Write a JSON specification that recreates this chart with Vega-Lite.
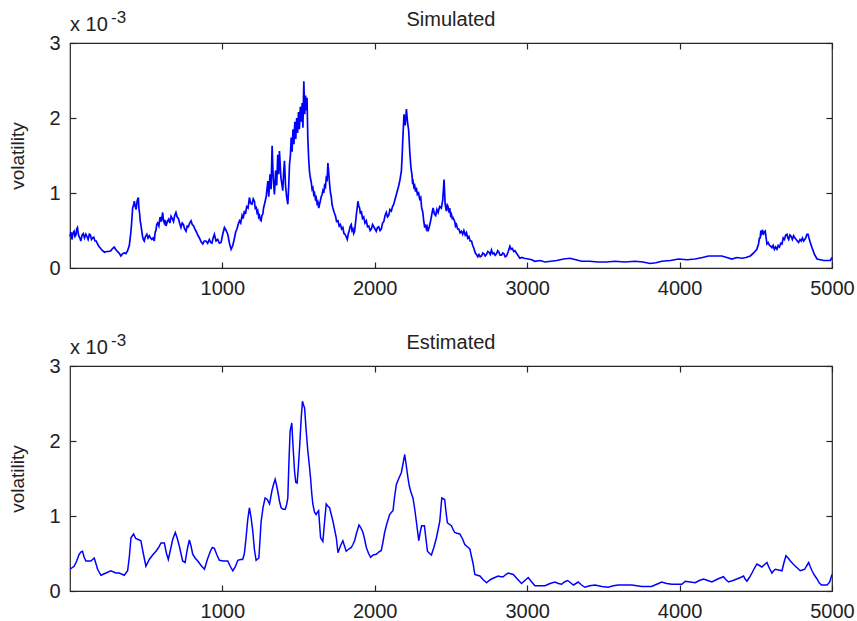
{
  "$schema": "https://vega.github.io/schema/vega-lite/v6.json",
  "padding": {"left": 7, "top": 8, "right": 0, "bottom": 0},
  "bounds": "flush",
  "spacing": 98,
  "config": {
    "font": "Liberation Sans",
    "view": {"stroke": "#262626", "strokeWidth": 1.2},
    "axis": {"grid": false, "domain": false, "labelFontSize": 20, "labelColor": "#222222", "tickColor": "#262626", "tickSize": -6, "tickWidth": 1.2, "titleFontWeight": "normal", "titleColor": "#222222", "labelFlush": false, "labelOverlap": false, "minExtent": 0}
  },
  "datasets": {
    "simulated": [
      {"t":1,"v":0.00042},{"t":7,"v":0.00048},{"t":14,"v":0.00038},{"t":21,"v":0.00047},{"t":28,"v":0.00049},{"t":34,"v":0.00042},{"t":40,"v":0.00044},{"t":45,"v":0.00052},{"t":50,"v":0.00054},{"t":55,"v":0.00046},{"t":60,"v":0.00042},{"t":66,"v":0.00040},{"t":72,"v":0.00036},{"t":80,"v":0.00044},{"t":88,"v":0.00046},{"t":96,"v":0.00040},{"t":105,"v":0.00045},{"t":112,"v":0.00042},{"t":120,"v":0.00038},{"t":128,"v":0.00045},{"t":135,"v":0.00044},{"t":142,"v":0.00038},{"t":149,"v":0.00040},{"t":157,"v":0.00041},{"t":165,"v":0.00036},{"t":173,"v":0.00036},{"t":182,"v":0.00032},{"t":190,"v":0.00029},{"t":198,"v":0.00027},{"t":206,"v":0.00025},{"t":215,"v":0.00023},{"t":228,"v":0.00021},{"t":240,"v":0.00022},{"t":255,"v":0.00022},{"t":269,"v":0.00023},{"t":280,"v":0.00026},{"t":291,"v":0.00028},{"t":300,"v":0.00025},{"t":312,"v":0.00022},{"t":323,"v":0.00020},{"t":335,"v":0.00016},{"t":346,"v":0.00019},{"t":358,"v":0.00020},{"t":368,"v":0.00019},{"t":379,"v":0.00023},{"t":390,"v":0.00030},{"t":401,"v":0.00049},{"t":406,"v":0.00062},{"t":412,"v":0.00080},{"t":418,"v":0.00084},{"t":423,"v":0.00089},{"t":429,"v":0.00082},{"t":435,"v":0.00078},{"t":442,"v":0.00090},{"t":449,"v":0.00094},{"t":453,"v":0.00080},{"t":458,"v":0.00072},{"t":462,"v":0.00062},{"t":466,"v":0.00058},{"t":471,"v":0.00050},{"t":477,"v":0.00042},{"t":482,"v":0.00038},{"t":488,"v":0.00036},{"t":496,"v":0.00042},{"t":505,"v":0.00045},{"t":513,"v":0.00040},{"t":521,"v":0.00043},{"t":530,"v":0.00040},{"t":538,"v":0.00038},{"t":546,"v":0.00040},{"t":554,"v":0.00036},{"t":560,"v":0.00048},{"t":565,"v":0.00050},{"t":570,"v":0.00058},{"t":576,"v":0.00060},{"t":584,"v":0.00056},{"t":592,"v":0.00068},{"t":600,"v":0.00062},{"t":609,"v":0.00074},{"t":614,"v":0.00064},{"t":620,"v":0.00060},{"t":626,"v":0.00064},{"t":631,"v":0.00056},{"t":640,"v":0.00062},{"t":648,"v":0.00065},{"t":656,"v":0.00060},{"t":664,"v":0.00069},{"t":672,"v":0.00066},{"t":680,"v":0.00062},{"t":688,"v":0.00070},{"t":696,"v":0.00074},{"t":704,"v":0.00068},{"t":712,"v":0.00066},{"t":720,"v":0.00060},{"t":729,"v":0.00054},{"t":737,"v":0.00060},{"t":745,"v":0.00058},{"t":753,"v":0.00052},{"t":762,"v":0.00049},{"t":770,"v":0.00056},{"t":778,"v":0.00055},{"t":786,"v":0.00060},{"t":795,"v":0.00063},{"t":803,"v":0.00058},{"t":812,"v":0.00056},{"t":820,"v":0.00052},{"t":828,"v":0.00049},{"t":839,"v":0.00044},{"t":850,"v":0.00040},{"t":861,"v":0.00035},{"t":872,"v":0.00032},{"t":882,"v":0.00036},{"t":893,"v":0.00036},{"t":904,"v":0.00033},{"t":915,"v":0.00038},{"t":924,"v":0.00034},{"t":932,"v":0.00033},{"t":940,"v":0.00040},{"t":948,"v":0.00045},{"t":959,"v":0.00036},{"t":970,"v":0.00038},{"t":981,"v":0.00033},{"t":992,"v":0.00034},{"t":1003,"v":0.00045},{"t":1014,"v":0.00054},{"t":1025,"v":0.00050},{"t":1036,"v":0.00045},{"t":1047,"v":0.00033},{"t":1058,"v":0.00025},{"t":1069,"v":0.00030},{"t":1080,"v":0.00040},{"t":1088,"v":0.00048},{"t":1096,"v":0.00052},{"t":1104,"v":0.00058},{"t":1113,"v":0.00063},{"t":1121,"v":0.00060},{"t":1130,"v":0.00070},{"t":1137,"v":0.00066},{"t":1145,"v":0.00076},{"t":1152,"v":0.00072},{"t":1160,"v":0.00082},{"t":1169,"v":0.00080},{"t":1178,"v":0.00094},{"t":1186,"v":0.00086},{"t":1195,"v":0.00085},{"t":1203,"v":0.00092},{"t":1211,"v":0.00089},{"t":1217,"v":0.00078},{"t":1222,"v":0.00082},{"t":1228,"v":0.00074},{"t":1233,"v":0.00076},{"t":1239,"v":0.00068},{"t":1244,"v":0.00070},{"t":1250,"v":0.00064},{"t":1255,"v":0.00063},{"t":1260,"v":0.00070},{"t":1266,"v":0.00072},{"t":1271,"v":0.00080},{"t":1277,"v":0.00085},{"t":1288,"v":0.00095},{"t":1299,"v":0.00116},{"t":1305,"v":0.00095},{"t":1313,"v":0.00125},{"t":1320,"v":0.00105},{"t":1327,"v":0.00163},{"t":1334,"v":0.00120},{"t":1342,"v":0.00098},{"t":1350,"v":0.00130},{"t":1357,"v":0.00110},{"t":1364,"v":0.00151},{"t":1370,"v":0.00125},{"t":1375,"v":0.00156},{"t":1385,"v":0.00120},{"t":1397,"v":0.00103},{"t":1402,"v":0.00125},{"t":1408,"v":0.00143},{"t":1415,"v":0.00110},{"t":1422,"v":0.00095},{"t":1430,"v":0.00085},{"t":1436,"v":0.00110},{"t":1441,"v":0.00138},{"t":1447,"v":0.00150},{"t":1452,"v":0.00174},{"t":1458,"v":0.00155},{"t":1464,"v":0.00185},{"t":1470,"v":0.00165},{"t":1476,"v":0.00195},{"t":1482,"v":0.00172},{"t":1488,"v":0.00200},{"t":1494,"v":0.00180},{"t":1500,"v":0.00208},{"t":1506,"v":0.00185},{"t":1512,"v":0.00215},{"t":1518,"v":0.00195},{"t":1524,"v":0.00220},{"t":1529,"v":0.00187},{"t":1535,"v":0.00249},{"t":1541,"v":0.00205},{"t":1546,"v":0.00230},{"t":1551,"v":0.00210},{"t":1556,"v":0.00227},{"t":1561,"v":0.00174},{"t":1567,"v":0.00145},{"t":1572,"v":0.00129},{"t":1578,"v":0.00120},{"t":1583,"v":0.00115},{"t":1589,"v":0.00105},{"t":1594,"v":0.00107},{"t":1600,"v":0.00098},{"t":1605,"v":0.00100},{"t":1611,"v":0.00092},{"t":1616,"v":0.00094},{"t":1622,"v":0.00086},{"t":1627,"v":0.00088},{"t":1633,"v":0.00080},{"t":1638,"v":0.00085},{"t":1644,"v":0.00090},{"t":1649,"v":0.00095},{"t":1655,"v":0.00098},{"t":1660,"v":0.00103},{"t":1666,"v":0.00100},{"t":1671,"v":0.00110},{"t":1677,"v":0.00108},{"t":1682,"v":0.00120},{"t":1688,"v":0.00118},{"t":1693,"v":0.00140},{"t":1699,"v":0.00125},{"t":1704,"v":0.00112},{"t":1710,"v":0.00100},{"t":1715,"v":0.00095},{"t":1720,"v":0.00085},{"t":1726,"v":0.00080},{"t":1734,"v":0.00074},{"t":1742,"v":0.00070},{"t":1750,"v":0.00062},{"t":1759,"v":0.00063},{"t":1767,"v":0.00056},{"t":1775,"v":0.00058},{"t":1783,"v":0.00052},{"t":1791,"v":0.00054},{"t":1798,"v":0.00046},{"t":1805,"v":0.00045},{"t":1812,"v":0.00042},{"t":1820,"v":0.00038},{"t":1827,"v":0.00046},{"t":1833,"v":0.00050},{"t":1840,"v":0.00056},{"t":1846,"v":0.00058},{"t":1851,"v":0.00050},{"t":1857,"v":0.00052},{"t":1862,"v":0.00046},{"t":1868,"v":0.00049},{"t":1874,"v":0.00060},{"t":1879,"v":0.00070},{"t":1885,"v":0.00080},{"t":1890,"v":0.00089},{"t":1896,"v":0.00082},{"t":1901,"v":0.00080},{"t":1906,"v":0.00072},{"t":1912,"v":0.00076},{"t":1920,"v":0.00066},{"t":1928,"v":0.00068},{"t":1936,"v":0.00060},{"t":1945,"v":0.00063},{"t":1953,"v":0.00055},{"t":1961,"v":0.00056},{"t":1970,"v":0.00050},{"t":1978,"v":0.00052},{"t":1986,"v":0.00058},{"t":1994,"v":0.00055},{"t":2002,"v":0.00052},{"t":2010,"v":0.00049},{"t":2018,"v":0.00054},{"t":2026,"v":0.00055},{"t":2035,"v":0.00050},{"t":2043,"v":0.00052},{"t":2052,"v":0.00060},{"t":2060,"v":0.00062},{"t":2068,"v":0.00070},{"t":2076,"v":0.00074},{"t":2084,"v":0.00068},{"t":2092,"v":0.00070},{"t":2100,"v":0.00078},{"t":2109,"v":0.00076},{"t":2117,"v":0.00082},{"t":2125,"v":0.00085},{"t":2134,"v":0.00092},{"t":2142,"v":0.00098},{"t":2150,"v":0.00104},{"t":2158,"v":0.00110},{"t":2166,"v":0.00118},{"t":2175,"v":0.00129},{"t":2180,"v":0.00150},{"t":2184,"v":0.00170},{"t":2192,"v":0.00205},{"t":2200,"v":0.00190},{"t":2208,"v":0.00212},{"t":2215,"v":0.00195},{"t":2223,"v":0.00183},{"t":2230,"v":0.00155},{"t":2236,"v":0.00138},{"t":2240,"v":0.00130},{"t":2244,"v":0.00125},{"t":2248,"v":0.00115},{"t":2251,"v":0.00116},{"t":2257,"v":0.00108},{"t":2262,"v":0.00110},{"t":2268,"v":0.00102},{"t":2273,"v":0.00107},{"t":2280,"v":0.00098},{"t":2288,"v":0.00100},{"t":2295,"v":0.00092},{"t":2302,"v":0.00094},{"t":2308,"v":0.00080},{"t":2315,"v":0.00075},{"t":2322,"v":0.00062},{"t":2328,"v":0.00054},{"t":2333,"v":0.00058},{"t":2339,"v":0.00052},{"t":2344,"v":0.00055},{"t":2350,"v":0.00049},{"t":2358,"v":0.00055},{"t":2366,"v":0.00062},{"t":2375,"v":0.00072},{"t":2383,"v":0.00080},{"t":2392,"v":0.00072},{"t":2400,"v":0.00070},{"t":2408,"v":0.00078},{"t":2416,"v":0.00074},{"t":2426,"v":0.00082},{"t":2437,"v":0.00080},{"t":2446,"v":0.00090},{"t":2455,"v":0.00118},{"t":2462,"v":0.00085},{"t":2470,"v":0.00076},{"t":2476,"v":0.00084},{"t":2481,"v":0.00082},{"t":2487,"v":0.00074},{"t":2492,"v":0.00080},{"t":2498,"v":0.00070},{"t":2503,"v":0.00072},{"t":2509,"v":0.00066},{"t":2514,"v":0.00067},{"t":2520,"v":0.00064},{"t":2525,"v":0.00062},{"t":2530,"v":0.00056},{"t":2536,"v":0.00058},{"t":2544,"v":0.00052},{"t":2552,"v":0.00052},{"t":2560,"v":0.00047},{"t":2569,"v":0.00049},{"t":2577,"v":0.00045},{"t":2585,"v":0.00050},{"t":2594,"v":0.00044},{"t":2602,"v":0.00047},{"t":2610,"v":0.00040},{"t":2618,"v":0.00042},{"t":2626,"v":0.00036},{"t":2635,"v":0.00036},{"t":2643,"v":0.00030},{"t":2651,"v":0.00026},{"t":2660,"v":0.00020},{"t":2668,"v":0.00018},{"t":2676,"v":0.00015},{"t":2684,"v":0.00018},{"t":2692,"v":0.00015},{"t":2701,"v":0.00016},{"t":2709,"v":0.00020},{"t":2717,"v":0.00019},{"t":2725,"v":0.00016},{"t":2733,"v":0.00018},{"t":2742,"v":0.00022},{"t":2750,"v":0.00021},{"t":2758,"v":0.00018},{"t":2766,"v":0.00024},{"t":2774,"v":0.00019},{"t":2782,"v":0.00020},{"t":2790,"v":0.00017},{"t":2799,"v":0.00019},{"t":2807,"v":0.00023},{"t":2815,"v":0.00021},{"t":2823,"v":0.00017},{"t":2832,"v":0.00017},{"t":2840,"v":0.00020},{"t":2848,"v":0.00019},{"t":2856,"v":0.00015},{"t":2865,"v":0.00016},{"t":2876,"v":0.00022},{"t":2887,"v":0.00029},{"t":2895,"v":0.00025},{"t":2903,"v":0.00026},{"t":2912,"v":0.00022},{"t":2920,"v":0.00023},{"t":2936,"v":0.00018},{"t":2952,"v":0.00013},{"t":2966,"v":0.00014},{"t":2980,"v":0.00013},{"t":3007,"v":0.00012},{"t":3030,"v":0.00011},{"t":3051,"v":0.00009},{"t":3085,"v":0.00010},{"t":3117,"v":0.00008},{"t":3155,"v":0.00009},{"t":3194,"v":0.00010},{"t":3240,"v":0.00012},{"t":3281,"v":0.00013},{"t":3320,"v":0.00011},{"t":3357,"v":0.00009},{"t":3410,"v":0.00009},{"t":3467,"v":0.00008},{"t":3520,"v":0.00008},{"t":3576,"v":0.00009},{"t":3640,"v":0.00008},{"t":3708,"v":0.00009},{"t":3760,"v":0.00008},{"t":3806,"v":0.00006},{"t":3845,"v":0.00007},{"t":3883,"v":0.00009},{"t":3940,"v":0.00010},{"t":3993,"v":0.00012},{"t":4050,"v":0.00011},{"t":4102,"v":0.00012},{"t":4150,"v":0.00014},{"t":4190,"v":0.00016},{"t":4235,"v":0.00016},{"t":4277,"v":0.00016},{"t":4310,"v":0.00014},{"t":4343,"v":0.00012},{"t":4375,"v":0.00014},{"t":4409,"v":0.00013},{"t":4435,"v":0.00014},{"t":4464,"v":0.00016},{"t":4486,"v":0.00020},{"t":4507,"v":0.00025},{"t":4518,"v":0.00032},{"t":4524,"v":0.00040},{"t":4529,"v":0.00040},{"t":4533,"v":0.00050},{"t":4537,"v":0.00046},{"t":4545,"v":0.00051},{"t":4549,"v":0.00044},{"t":4553,"v":0.00047},{"t":4562,"v":0.00049},{"t":4568,"v":0.00040},{"t":4573,"v":0.00032},{"t":4581,"v":0.00034},{"t":4590,"v":0.00030},{"t":4598,"v":0.00029},{"t":4606,"v":0.00027},{"t":4614,"v":0.00030},{"t":4622,"v":0.00025},{"t":4630,"v":0.00028},{"t":4639,"v":0.00025},{"t":4647,"v":0.00030},{"t":4655,"v":0.00028},{"t":4664,"v":0.00033},{"t":4672,"v":0.00032},{"t":4680,"v":0.00040},{"t":4688,"v":0.00038},{"t":4696,"v":0.00044},{"t":4705,"v":0.00045},{"t":4710,"v":0.00040},{"t":4716,"v":0.00038},{"t":4724,"v":0.00044},{"t":4732,"v":0.00042},{"t":4740,"v":0.00038},{"t":4748,"v":0.00043},{"t":4757,"v":0.00040},{"t":4765,"v":0.00038},{"t":4773,"v":0.00036},{"t":4781,"v":0.00034},{"t":4790,"v":0.00038},{"t":4798,"v":0.00036},{"t":4806,"v":0.00040},{"t":4814,"v":0.00036},{"t":4821,"v":0.00038},{"t":4828,"v":0.00040},{"t":4835,"v":0.00045},{"t":4843,"v":0.00045},{"t":4849,"v":0.00040},{"t":4856,"v":0.00035},{"t":4869,"v":0.00027},{"t":4885,"v":0.00018},{"t":4902,"v":0.00012},{"t":4924,"v":0.00011},{"t":4946,"v":0.00010},{"t":4968,"v":0.00010},{"t":4989,"v":0.00010},{"t":5000,"v":0.00014}
    ],
    "estimated": [
      {"t":1,"v":0.00029},{"t":28,"v":0.00033},{"t":45,"v":0.00040},{"t":61,"v":0.00049},{"t":72,"v":0.00052},{"t":83,"v":0.00053},{"t":94,"v":0.00045},{"t":105,"v":0.00040},{"t":138,"v":0.00040},{"t":160,"v":0.00044},{"t":172,"v":0.00036},{"t":182,"v":0.00029},{"t":204,"v":0.00021},{"t":237,"v":0.00024},{"t":269,"v":0.00027},{"t":302,"v":0.00024},{"t":324,"v":0.00024},{"t":357,"v":0.00021},{"t":379,"v":0.00027},{"t":390,"v":0.00045},{"t":401,"v":0.00071},{"t":418,"v":0.00076},{"t":432,"v":0.00070},{"t":445,"v":0.00069},{"t":466,"v":0.00067},{"t":482,"v":0.00050},{"t":499,"v":0.00033},{"t":521,"v":0.00042},{"t":543,"v":0.00048},{"t":565,"v":0.00053},{"t":582,"v":0.00058},{"t":598,"v":0.00064},{"t":620,"v":0.00064},{"t":634,"v":0.00050},{"t":646,"v":0.00042},{"t":660,"v":0.00055},{"t":675,"v":0.00069},{"t":692,"v":0.00078},{"t":705,"v":0.00070},{"t":718,"v":0.00060},{"t":740,"v":0.00040},{"t":756,"v":0.00038},{"t":770,"v":0.00055},{"t":784,"v":0.00068},{"t":795,"v":0.00060},{"t":806,"v":0.00049},{"t":822,"v":0.00044},{"t":839,"v":0.00040},{"t":861,"v":0.00034},{"t":883,"v":0.00029},{"t":902,"v":0.00042},{"t":922,"v":0.00053},{"t":935,"v":0.00058},{"t":948,"v":0.00057},{"t":965,"v":0.00048},{"t":981,"v":0.00041},{"t":1008,"v":0.00040},{"t":1036,"v":0.00040},{"t":1052,"v":0.00033},{"t":1069,"v":0.00027},{"t":1085,"v":0.00032},{"t":1102,"v":0.00041},{"t":1120,"v":0.00042},{"t":1134,"v":0.00042},{"t":1145,"v":0.00050},{"t":1156,"v":0.00071},{"t":1167,"v":0.00095},{"t":1178,"v":0.00111},{"t":1189,"v":0.00098},{"t":1200,"v":0.00080},{"t":1211,"v":0.00055},{"t":1222,"v":0.00041},{"t":1240,"v":0.00044},{"t":1248,"v":0.00070},{"t":1255,"v":0.00093},{"t":1268,"v":0.00112},{"t":1281,"v":0.00124},{"t":1295,"v":0.00122},{"t":1310,"v":0.00116},{"t":1325,"v":0.00133},{"t":1336,"v":0.00142},{"t":1347,"v":0.00149},{"t":1355,"v":0.00142},{"t":1364,"v":0.00133},{"t":1375,"v":0.00120},{"t":1386,"v":0.00111},{"t":1400,"v":0.00109},{"t":1413,"v":0.00109},{"t":1422,"v":0.00115},{"t":1430,"v":0.00124},{"t":1437,"v":0.00170},{"t":1445,"v":0.00213},{"t":1456,"v":0.00224},{"t":1465,"v":0.00190},{"t":1474,"v":0.00160},{"t":1482,"v":0.00145},{"t":1491,"v":0.00144},{"t":1499,"v":0.00165},{"t":1507,"v":0.00191},{"t":1518,"v":0.00231},{"t":1526,"v":0.00253},{"t":1533,"v":0.00248},{"t":1540,"v":0.00244},{"t":1550,"v":0.00215},{"t":1561,"v":0.00187},{"t":1570,"v":0.00170},{"t":1579,"v":0.00151},{"t":1587,"v":0.00130},{"t":1594,"v":0.00116},{"t":1605,"v":0.00105},{"t":1616,"v":0.00102},{"t":1624,"v":0.00105},{"t":1632,"v":0.00107},{"t":1638,"v":0.00090},{"t":1645,"v":0.00071},{"t":1660,"v":0.00066},{"t":1670,"v":0.00090},{"t":1682,"v":0.00116},{"t":1693,"v":0.00113},{"t":1704,"v":0.00111},{"t":1715,"v":0.00102},{"t":1726,"v":0.00093},{"t":1737,"v":0.00082},{"t":1748,"v":0.00071},{"t":1759,"v":0.00051},{"t":1775,"v":0.00060},{"t":1791,"v":0.00067},{"t":1802,"v":0.00060},{"t":1813,"v":0.00053},{"t":1830,"v":0.00056},{"t":1846,"v":0.00058},{"t":1857,"v":0.00062},{"t":1868,"v":0.00067},{"t":1882,"v":0.00078},{"t":1897,"v":0.00088},{"t":1910,"v":0.00084},{"t":1923,"v":0.00078},{"t":1935,"v":0.00068},{"t":1945,"v":0.00058},{"t":1960,"v":0.00050},{"t":1973,"v":0.00045},{"t":1990,"v":0.00048},{"t":2010,"v":0.00049},{"t":2026,"v":0.00052},{"t":2043,"v":0.00054},{"t":2054,"v":0.00065},{"t":2065,"v":0.00078},{"t":2080,"v":0.00090},{"t":2098,"v":0.00102},{"t":2110,"v":0.00105},{"t":2120,"v":0.00107},{"t":2130,"v":0.00125},{"t":2142,"v":0.00142},{"t":2158,"v":0.00150},{"t":2175,"v":0.00158},{"t":2186,"v":0.00170},{"t":2197,"v":0.00182},{"t":2208,"v":0.00166},{"t":2218,"v":0.00151},{"t":2227,"v":0.00140},{"t":2236,"v":0.00133},{"t":2244,"v":0.00128},{"t":2251,"v":0.00124},{"t":2262,"v":0.00110},{"t":2273,"v":0.00093},{"t":2281,"v":0.00080},{"t":2289,"v":0.00067},{"t":2300,"v":0.00080},{"t":2308,"v":0.00087},{"t":2326,"v":0.00087},{"t":2336,"v":0.00070},{"t":2346,"v":0.00053},{"t":2360,"v":0.00050},{"t":2372,"v":0.00048},{"t":2388,"v":0.00058},{"t":2405,"v":0.00071},{"t":2416,"v":0.00082},{"t":2427,"v":0.00093},{"t":2440,"v":0.00124},{"t":2459,"v":0.00122},{"t":2468,"v":0.00105},{"t":2477,"v":0.00091},{"t":2490,"v":0.00089},{"t":2503,"v":0.00087},{"t":2514,"v":0.00082},{"t":2525,"v":0.00078},{"t":2540,"v":0.00077},{"t":2558,"v":0.00076},{"t":2575,"v":0.00070},{"t":2591,"v":0.00062},{"t":2608,"v":0.00059},{"t":2624,"v":0.00056},{"t":2635,"v":0.00046},{"t":2646,"v":0.00036},{"t":2652,"v":0.00028},{"t":2657,"v":0.00022},{"t":2673,"v":0.00021},{"t":2690,"v":0.00020},{"t":2712,"v":0.00015},{"t":2734,"v":0.00011},{"t":2750,"v":0.00014},{"t":2766,"v":0.00016},{"t":2788,"v":0.00018},{"t":2810,"v":0.00020},{"t":2826,"v":0.00019},{"t":2843,"v":0.00019},{"t":2860,"v":0.00022},{"t":2876,"v":0.00024},{"t":2892,"v":0.00023},{"t":2909,"v":0.00022},{"t":2936,"v":0.00016},{"t":2963,"v":0.00010},{"t":2985,"v":0.00014},{"t":3007,"v":0.00018},{"t":3030,"v":0.00012},{"t":3051,"v":0.00007},{"t":3085,"v":0.00007},{"t":3117,"v":0.00007},{"t":3150,"v":0.00010},{"t":3182,"v":0.00012},{"t":3205,"v":0.00010},{"t":3226,"v":0.00009},{"t":3245,"v":0.00012},{"t":3265,"v":0.00014},{"t":3285,"v":0.00011},{"t":3303,"v":0.00008},{"t":3320,"v":0.00010},{"t":3335,"v":0.00012},{"t":3357,"v":0.00008},{"t":3379,"v":0.00005},{"t":3410,"v":0.00007},{"t":3445,"v":0.00008},{"t":3490,"v":0.00006},{"t":3532,"v":0.00005},{"t":3565,"v":0.00007},{"t":3598,"v":0.00008},{"t":3640,"v":0.00008},{"t":3686,"v":0.00008},{"t":3720,"v":0.00007},{"t":3751,"v":0.00006},{"t":3785,"v":0.00006},{"t":3817,"v":0.00006},{"t":3850,"v":0.00009},{"t":3883,"v":0.00012},{"t":3915,"v":0.00010},{"t":3949,"v":0.00009},{"t":3982,"v":0.00009},{"t":4015,"v":0.00009},{"t":4037,"v":0.00013},{"t":4070,"v":0.00012},{"t":4102,"v":0.00011},{"t":4130,"v":0.00014},{"t":4157,"v":0.00016},{"t":4185,"v":0.00014},{"t":4212,"v":0.00012},{"t":4250,"v":0.00016},{"t":4288,"v":0.00019},{"t":4305,"v":0.00015},{"t":4321,"v":0.00012},{"t":4350,"v":0.00014},{"t":4376,"v":0.00016},{"t":4400,"v":0.00018},{"t":4420,"v":0.00020},{"t":4430,"v":0.00016},{"t":4442,"v":0.00013},{"t":4458,"v":0.00018},{"t":4475,"v":0.00024},{"t":4490,"v":0.00030},{"t":4507,"v":0.00036},{"t":4524,"v":0.00034},{"t":4540,"v":0.00032},{"t":4556,"v":0.00035},{"t":4573,"v":0.00038},{"t":4590,"v":0.00030},{"t":4606,"v":0.00024},{"t":4617,"v":0.00027},{"t":4628,"v":0.00029},{"t":4650,"v":0.00028},{"t":4672,"v":0.00027},{"t":4685,"v":0.00038},{"t":4698,"v":0.00047},{"t":4712,"v":0.00044},{"t":4727,"v":0.00040},{"t":4745,"v":0.00036},{"t":4760,"v":0.00033},{"t":4776,"v":0.00030},{"t":4792,"v":0.00027},{"t":4806,"v":0.00028},{"t":4821,"v":0.00029},{"t":4835,"v":0.00034},{"t":4847,"v":0.00038},{"t":4858,"v":0.00032},{"t":4869,"v":0.00027},{"t":4885,"v":0.00021},{"t":4902,"v":0.00016},{"t":4916,"v":0.00011},{"t":4931,"v":0.00008},{"t":4950,"v":0.00008},{"t":4968,"v":0.00008},{"t":4985,"v":0.00012},{"t":5000,"v":0.00022}
    ]
  },
  "vconcat": [
    {
      "width": 762,
      "height": 225,
      "data": {"name": "simulated"},
      "layer": [
        {
          "mark": {"type": "line", "color": "#0000ff", "strokeWidth": 1.7},
          "encoding": {
            "x": {"field": "t", "type": "quantitative", "scale": {"domain": [1, 5000], "nice": false, "zero": false},
                  "axis": {"orient": "bottom", "values": [1000, 2000, 3000, 4000, 5000], "format": "d", "labelPadding": 16, "title": null}},
            "y": {"field": "v", "type": "quantitative", "scale": {"domain": [0, 0.003], "nice": false},
                  "axis": {"orient": "left", "values": [0, 0.001, 0.002, 0.003], "labelExpr": "format(datum.value*1000, 'd')", "labelPadding": 16,
                           "title": "volatility", "titleFontSize": 19, "titleAngle": 270, "titleBaseline": "alphabetic", "titleAlign": "center", "titleX": -47, "titleY": 112.5}}
          }
        },
        {
          "mark": {"type": "line", "opacity": 0},
          "encoding": {
            "x": {"field": "t", "type": "quantitative", "axis": {"orient": "top", "values": [1000, 2000, 3000, 4000, 5000], "labels": false, "title": null}},
            "y": {"field": "v", "type": "quantitative", "axis": {"orient": "right", "values": [0, 0.001, 0.002, 0.003], "labels": false, "title": null}}
          }
        },
        {
          "data": {"values": [{"label": "Simulated"}]},
          "mark": {"type": "text", "align": "center", "baseline": "alphabetic", "fontSize": 20, "color": "#222222", "dy": -17},
          "encoding": {
            "text": {"field": "label"},
            "x": {"datum": 2500.5, "type": "quantitative", "axis": null},
            "y": {"datum": 0.003, "type": "quantitative", "axis": null}
          }
        },
        {
          "data": {"values": [{}]},
          "mark": {"type": "text", "text": "x 10", "align": "left", "baseline": "alphabetic", "fontSize": 20, "color": "#222222", "dy": -12},
          "encoding": {
            "x": {"datum": 1, "type": "quantitative", "axis": null},
            "y": {"datum": 0.003, "type": "quantitative", "axis": null}
          }
        },
        {
          "data": {"values": [{}]},
          "mark": {"type": "text", "text": "-3", "align": "left", "baseline": "alphabetic", "fontSize": 17, "color": "#222222", "dx": 41, "dy": -20},
          "encoding": {
            "x": {"datum": 1, "type": "quantitative", "axis": null},
            "y": {"datum": 0.003, "type": "quantitative", "axis": null}
          }
        }
      ],
      "resolve": {"axis": {"x": "independent", "y": "independent"}}
    },
    {
      "width": 762,
      "height": 225,
      "data": {"name": "estimated"},
      "layer": [
        {
          "mark": {"type": "line", "color": "#0000ff", "strokeWidth": 1.5},
          "encoding": {
            "x": {"field": "t", "type": "quantitative", "scale": {"domain": [1, 5000], "nice": false, "zero": false},
                  "axis": {"orient": "bottom", "values": [1000, 2000, 3000, 4000, 5000], "format": "d", "labelPadding": 16, "title": null}},
            "y": {"field": "v", "type": "quantitative", "scale": {"domain": [0, 0.003], "nice": false},
                  "axis": {"orient": "left", "values": [0, 0.001, 0.002, 0.003], "labelExpr": "format(datum.value*1000, 'd')", "labelPadding": 16,
                           "title": "volatility", "titleFontSize": 19, "titleAngle": 270, "titleBaseline": "alphabetic", "titleAlign": "center", "titleX": -47, "titleY": 112.5}}
          }
        },
        {
          "mark": {"type": "line", "opacity": 0},
          "encoding": {
            "x": {"field": "t", "type": "quantitative", "axis": {"orient": "top", "values": [1000, 2000, 3000, 4000, 5000], "labels": false, "title": null}},
            "y": {"field": "v", "type": "quantitative", "axis": {"orient": "right", "values": [0, 0.001, 0.002, 0.003], "labels": false, "title": null}}
          }
        },
        {
          "data": {"values": [{"label": "Estimated"}]},
          "mark": {"type": "text", "align": "center", "baseline": "alphabetic", "fontSize": 20, "color": "#222222", "dy": -17},
          "encoding": {
            "text": {"field": "label"},
            "x": {"datum": 2500.5, "type": "quantitative", "axis": null},
            "y": {"datum": 0.003, "type": "quantitative", "axis": null}
          }
        },
        {
          "data": {"values": [{}]},
          "mark": {"type": "text", "text": "x 10", "align": "left", "baseline": "alphabetic", "fontSize": 20, "color": "#222222", "dy": -12},
          "encoding": {
            "x": {"datum": 1, "type": "quantitative", "axis": null},
            "y": {"datum": 0.003, "type": "quantitative", "axis": null}
          }
        },
        {
          "data": {"values": [{}]},
          "mark": {"type": "text", "text": "-3", "align": "left", "baseline": "alphabetic", "fontSize": 17, "color": "#222222", "dx": 41, "dy": -20},
          "encoding": {
            "x": {"datum": 1, "type": "quantitative", "axis": null},
            "y": {"datum": 0.003, "type": "quantitative", "axis": null}
          }
        }
      ],
      "resolve": {"axis": {"x": "independent", "y": "independent"}}
    }
  ]
}
